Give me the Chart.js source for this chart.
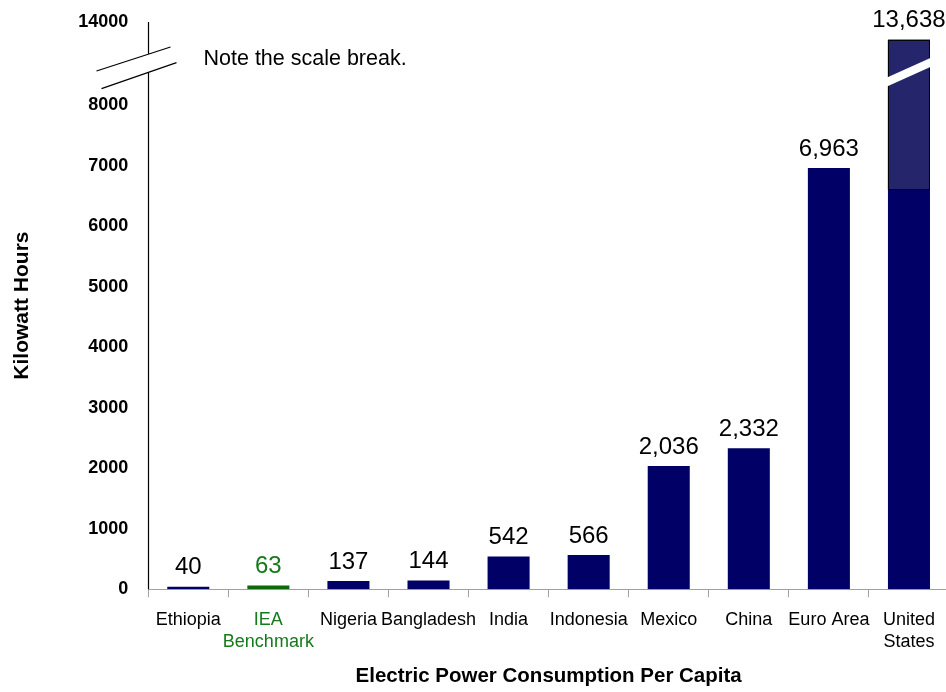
<!DOCTYPE html>
<html>
<head>
<meta charset="utf-8">
<script src="https://cdn.jsdelivr.net/npm/chart.js@4/dist/chart.umd.min.js"></script>
<style>
  html, body { margin: 0; padding: 0; background: #fff; overflow: hidden; }
  canvas { display: block; }
</style>
</head>
<body>
<canvas id="chart" width="950" height="692"></canvas>
<script>
// Electric power consumption per capita, kWh
const categories = ['Ethiopia', ['IEA', 'Benchmark'], 'Nigeria', 'Bangladesh', 'India', 'Indonesia', 'Mexico', 'China', 'Euro Area', ['United', 'States']];
const kwhPerCapita = [40, 63, 137, 144, 542, 566, 2036, 2332, 6963, 13638];
const yTickValues = [0, 1000, 2000, 3000, 4000, 5000, 6000, 7000, 8000, 14000];
const yMax = 14000;

// Value axis is broken between these two values
const yBreak = { low: 8550, high: 13350 };
// Share of the axis height given to the lower part and to the upper part
const breakLayout = { lowerShare: 0.9117, upperShare: 0.0565 };
// The highlighted band on a broken bar starts at this value
const panelFloor = 6600;

const NAVY = '#000066';
const PANEL = '#25256c';
const GREEN_BAR = '#0a6a0a';
const GREEN_TEXT = '#16791a';
const FONT = "'Liberation Sans', Arial, sans-serif";

const labelText = c => [].concat(c).join(' ');
const isBenchmark = i => labelText(categories[i]) === 'IEA Benchmark';

// Linear scale with a gap: [0, low] fills the lower share, [high, max] the upper share
class BrokenLinearScale extends Chart.LinearScale {
  static id = 'brokenLinear';
  static defaults = Chart.LinearScale.defaults;

  _parts() {
    const h = this.bottom - this.top;
    return {
      lowTop: this.bottom - h * breakLayout.lowerShare,
      highBottom: this.top + h * breakLayout.upperShare
    };
  }
  getPixelForValue(value) {
    const v = +value;
    const { lowTop, highBottom } = this._parts();
    if (v <= yBreak.low) {
      return this.bottom - (v / yBreak.low) * (this.bottom - lowTop);
    }
    if (v >= yBreak.high) {
      return highBottom - ((v - yBreak.high) / (this.max - yBreak.high)) * (highBottom - this.top);
    }
    return lowTop - ((v - yBreak.low) / (yBreak.high - yBreak.low)) * (lowTop - highBottom);
  }
  getValueForPixel(pixel) {
    const { lowTop, highBottom } = this._parts();
    if (pixel >= lowTop) {
      return (this.bottom - pixel) / (this.bottom - lowTop) * yBreak.low;
    }
    if (pixel <= highBottom) {
      return yBreak.high + (highBottom - pixel) / (highBottom - this.top) * (this.max - yBreak.high);
    }
    return yBreak.low + (lowTop - pixel) / (lowTop - highBottom) * (yBreak.high - yBreak.low);
  }
}
Chart.register(BrokenLinearScale);

// Broken-bar band, y-axis line with break marks, and the note
const scaleBreakPlugin = {
  id: 'scaleBreak',
  afterDatasetsDraw(chart) {
    const { ctx } = chart;
    const y = chart.scales.y;
    const yLow = y.getPixelForValue(yBreak.low);
    chart.getDatasetMeta(0).data.forEach((bar, i) => {
      if (kwhPerCapita[i] <= yBreak.high) return;
      const l = bar.x - bar.width / 2;
      const r = bar.x + bar.width / 2;
      const top = bar.y;
      const bot = y.getPixelForValue(panelFloor);
      ctx.save();
      ctx.fillStyle = PANEL;
      ctx.fillRect(l, top, r - l, bot - top);
      ctx.strokeStyle = '#000';
      ctx.lineWidth = 1;
      ctx.strokeRect(l + 0.5, top + 0.5, r - l - 1, bot - top - 1);
      // white slash across the bar
      const rise = (r - l) * 0.245;
      const half = 4.5;
      ctx.fillStyle = '#fff';
      ctx.beginPath();
      ctx.moveTo(l - 2, yLow + rise - half);
      ctx.lineTo(r + 2, yLow - rise - half);
      ctx.lineTo(r + 2, yLow - rise + half);
      ctx.lineTo(l - 2, yLow + rise + half);
      ctx.closePath();
      ctx.fill();
      ctx.restore();
    });
  },
  afterDraw(chart) {
    const { ctx } = chart;
    const y = chart.scales.y;
    const x0 = Math.round(chart.chartArea.left) + 0.5;
    const yLow = y.getPixelForValue(yBreak.low);
    const yHigh = y.getPixelForValue(yBreak.high);
    ctx.save();
    ctx.strokeStyle = '#000';
    ctx.lineWidth = 1.2;
    ctx.beginPath();
    ctx.moveTo(x0, y.top);
    ctx.lineTo(x0, yHigh);
    ctx.moveTo(x0, yLow);
    ctx.lineTo(x0, y.bottom);
    // break marks
    ctx.moveTo(x0 - 52, yHigh + 17);
    ctx.lineTo(x0 + 22, yHigh - 7);
    ctx.moveTo(x0 - 47, yLow + 16.5);
    ctx.lineTo(x0 + 28, yLow - 9.5);
    ctx.stroke();
    ctx.fillStyle = '#000';
    ctx.font = '21.5px ' + FONT;
    ctx.textAlign = 'left';
    ctx.textBaseline = 'middle';
    ctx.fillText('Note the scale break.', x0 + 55, (yHigh + yLow) / 2 - 4);
    ctx.restore();
  }
};

// Value labels above the bars
const valueLabelPlugin = {
  id: 'valueLabels',
  afterDatasetsDraw(chart) {
    const { ctx } = chart;
    ctx.save();
    ctx.font = '24px ' + FONT;
    ctx.textAlign = 'center';
    ctx.textBaseline = 'middle';
    chart.getDatasetMeta(0).data.forEach((bar, i) => {
      ctx.fillStyle = isBenchmark(i) ? GREEN_TEXT : '#000';
      ctx.fillText(kwhPerCapita[i].toLocaleString('en-US'), bar.x, bar.y - 19);
    });
    ctx.restore();
  }
};

Chart.defaults.font.family = FONT;
Chart.defaults.color = '#000';

new Chart(document.getElementById('chart'), {
  type: 'bar',
  data: {
    labels: categories,
    datasets: [{
      data: kwhPerCapita,
      backgroundColor: kwhPerCapita.map((v, i) => isBenchmark(i) ? GREEN_BAR : NAVY),
      borderWidth: 0,
      barPercentage: 0.525,
      categoryPercentage: 1
    }]
  },
  options: {
    responsive: false,
    animation: false,
    layout: { padding: { top: 22, right: 1, left: 0, bottom: 0 } },
    plugins: {
      legend: { display: false },
      tooltip: { enabled: false },
      title: { display: false }
    },
    scales: {
      x: {
        grid: {
          offset: true,
          drawOnChartArea: false,
          drawTicks: true,
          tickLength: 8,
          color: '#a0a0a0'
        },
        border: { display: true, color: '#a0a0a0', width: 1 },
        ticks: {
          maxRotation: 0,
          autoSkip: false,
          padding: 12,
          font: { size: 18 },
          color: ctx => isBenchmark(ctx.index) ? GREEN_TEXT : '#000'
        },
        title: {
          display: true,
          text: 'Electric Power Consumption Per Capita',
          font: { size: 20.5, weight: 'bold' },
          color: '#000',
          padding: { top: 0, bottom: 3 }
        }
      },
      y: {
        type: 'brokenLinear',
        min: 0,
        max: yMax,
        afterBuildTicks: scale => { scale.ticks = yTickValues.map(v => ({ value: v })); },
        // keep the end labels from pushing the plot area inward
        afterFit: scale => { scale.paddingTop = 0; scale.paddingBottom = 0; },
        grid: { display: false, drawTicks: false },
        border: { display: false },
        ticks: {
          padding: 20,
          font: { size: 18, weight: 'bold' },
          color: '#000',
          callback: v => String(v)
        },
        title: {
          display: true,
          text: 'Kilowatt Hours',
          font: { size: 21, weight: 'bold' },
          color: '#000',
          padding: { top: 10, bottom: 23 }
        }
      }
    }
  },
  plugins: [scaleBreakPlugin, valueLabelPlugin]
});
</script>
</body>
</html>
